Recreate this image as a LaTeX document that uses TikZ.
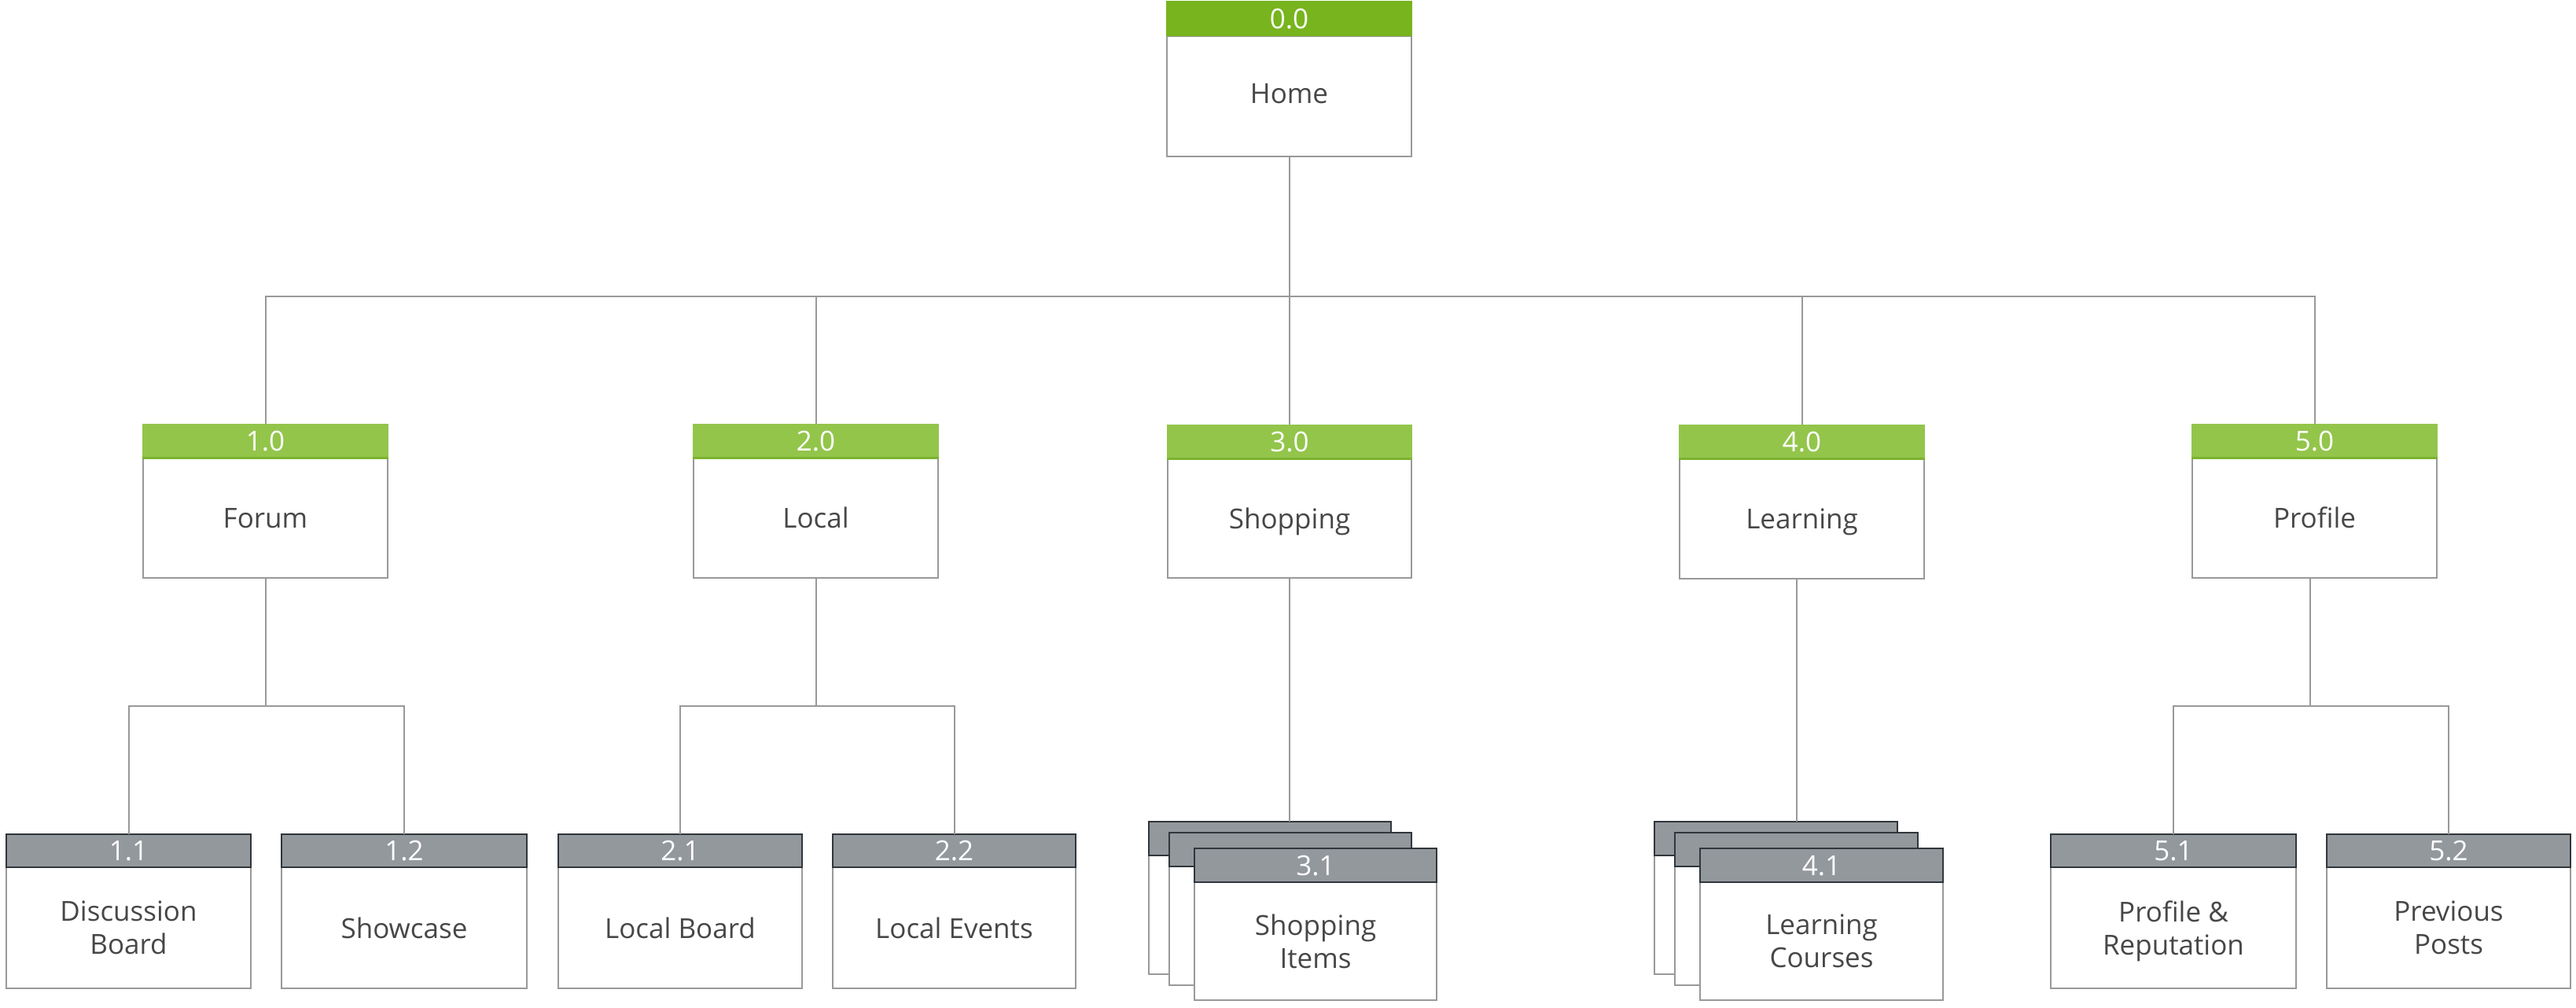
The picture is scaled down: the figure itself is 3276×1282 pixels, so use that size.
\documentclass[tikz,border=0pt]{standalone}
\usepackage{fontspec}
\setmainfont{Open Sans}
\definecolor{topgreen}{HTML}{78B41E}
\definecolor{lvlgreen}{HTML}{93C54B}
\definecolor{lvlgreenline}{HTML}{7CB32F}
\definecolor{hdrgray}{HTML}{93989D}
\definecolor{hdrdark}{HTML}{30363B}
\definecolor{bordergray}{HTML}{999999}
\definecolor{txtgray}{HTML}{474747}
\tikzset{
  base/.style={rectangle, inner sep=0pt, outer sep=0pt, align=center,
    font=\fontsize{35}{42}\selectfont, text depth=0pt},
  tophdr/.style={base, fill=topgreen, text=white},
  lvlhdr/.style={base, fill=lvlgreen, text=white},
  grayhdr/.style={base, fill=hdrgray, draw=hdrdark, line width=2pt, text=white},
  bodybox/.style={base, fill=white, draw=bordergray, line width=2pt, text=txtgray},
  conn/.style={draw=bordergray, line width=2pt},
  gline/.style={draw=lvlgreenline, line width=3pt}
}
\newcommand\mkhdr[7]{\node[#7, minimum width={(#3-#2)*1pt}, minimum height={(#5-#4)*1pt}, anchor=north west] (#1) at (#2,#4) {#6};}
\newcommand\mkbdy[6]{\node[bodybox, minimum width={(#3-#2)*1pt}, minimum height={(#5-#4)*1pt}, anchor=north west] (#1) at (#2,#4) {#6};}
\begin{document}
\begin{tikzpicture}[x=1pt,y=-1pt]
\useasboundingbox (0,0) rectangle (3276,1282);
% level 0
\mkbdy{h0}{1484}{1795}{46}{199}{\raisebox{6pt}{Home}}
\mkhdr{h0h}{1483}{1796}{1}{46}{0.0}{tophdr}
% level 1
\mkbdy{n1}{182}{493}{582}{735}{Forum}
\mkhdr{n1h}{181}{494}{539}{582}{1.0}{lvlhdr}
\mkbdy{n2}{882}{1193}{582}{735}{Local}
\mkhdr{n2h}{881}{1194}{539}{582}{2.0}{lvlhdr}
\mkbdy{n3}{1485}{1795}{583}{735}{Shopping}
\mkhdr{n3h}{1484}{1796}{540}{583}{3.0}{lvlhdr}
\mkbdy{n4}{2136}{2447}{583}{736}{Learning}
\mkhdr{n4h}{2135}{2448}{540}{583}{4.0}{lvlhdr}
\mkbdy{n5}{2788}{3099}{582}{735}{Profile}
\mkhdr{n5h}{2787}{3100}{539}{582}{5.0}{lvlhdr}
\foreach \n in {n1h,n2h,n3h,n4h,n5h}{\draw[gline] (\n.south west) -- (\n.south east);}
% level 2
\mkbdy{n11}{8}{319}{1103}{1257}{Discussion\\Board}
\mkhdr{n11h}{8}{319}{1061}{1103}{1.1}{grayhdr}
\mkbdy{n12}{358}{670}{1103}{1257}{Showcase}
\mkhdr{n12h}{358}{670}{1061}{1103}{1.2}{grayhdr}
\mkbdy{n21}{710}{1020}{1103}{1257}{Local Board}
\mkhdr{n21h}{710}{1020}{1061}{1103}{2.1}{grayhdr}
\mkbdy{n22}{1059}{1368}{1103}{1257}{Local Events}
\mkhdr{n22h}{1059}{1368}{1061}{1103}{2.2}{grayhdr}
\mkbdy{n51}{2608}{2920}{1103}{1257}{Profile \&\\Reputation}
\mkhdr{n51h}{2608}{2920}{1061}{1103}{5.1}{grayhdr}
\mkbdy{n52}{2959}{3269}{1103}{1257}{Previous\\Posts}
\mkhdr{n52h}{2959}{3269}{1061}{1103}{5.2}{grayhdr}
% stacks 3.1
\mkbdy{s3a}{1461}{1769}{1088}{1239}{}
\mkhdr{s3ah}{1461}{1769}{1045}{1088}{}{grayhdr}
\mkbdy{s3b}{1487}{1795}{1102}{1253}{}
\mkhdr{s3bh}{1487}{1795}{1059}{1102}{}{grayhdr}
\mkbdy{s3}{1519}{1827}{1122}{1272}{Shopping\\Items}
\mkhdr{s3h}{1519}{1827}{1079}{1122}{3.1}{grayhdr}
% stacks 4.1
\mkbdy{s4a}{2104}{2413}{1088}{1239}{}
\mkhdr{s4ah}{2104}{2413}{1045}{1088}{}{grayhdr}
\mkbdy{s4b}{2130}{2439}{1102}{1253}{}
\mkhdr{s4bh}{2130}{2439}{1059}{1102}{}{grayhdr}
\mkbdy{s4}{2162}{2471}{1122}{1272}{Learning\\Courses}
\mkhdr{s4h}{2162}{2471}{1079}{1122}{4.1}{grayhdr}
% connectors
\coordinate (busA) at (0,377);
\coordinate (busB) at (0,898);
\draw[conn] (h0.south) -- (h0.south |- busA);
\draw[conn] (n1h.north) -- (n1h.north |- busA) -- (n5h.north |- busA) -- (n5h.north);
\foreach \n in {n2h,n3h,n4h}{\draw[conn] (\n.north) -- (\n.north |- busA);}
\draw[conn] (n1.south) -- (n1.south |- busB);
\draw[conn] (n11h.north) -- (n11h.north |- busB) -- (n12h.north |- busB) -- (n12h.north);
\draw[conn] (n2.south) -- (n2.south |- busB);
\draw[conn] (n21h.north) -- (n21h.north |- busB) -- (n22h.north |- busB) -- (n22h.north);
\draw[conn] ([xshift=-6]n5.south) -- ([xshift=-6]n5.south |- busB);
\draw[conn] (n51h.north) -- (n51h.north |- busB) -- (n52h.north |- busB) -- (n52h.north);
\draw[conn] (n3.south) -- (n3.south |- s3ah.north);
\draw[conn] ([xshift=-7]n4.south) -- ([xshift=-7]n4.south |- s4ah.north);
\end{tikzpicture}
\end{document}
